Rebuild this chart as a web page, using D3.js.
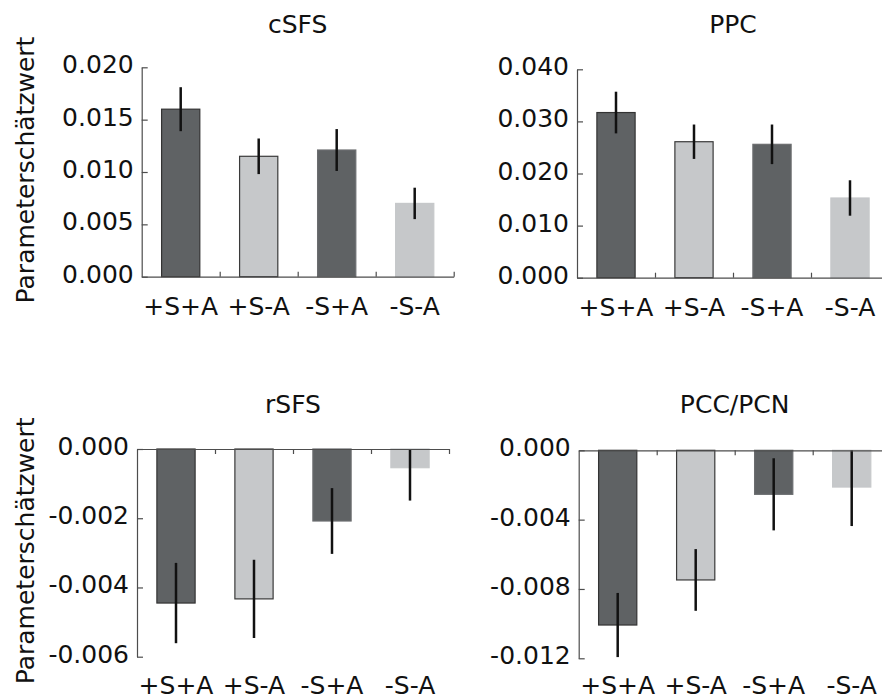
<!DOCTYPE html>
<html>
<head>
<meta charset="utf-8">
<script src="https://cdn.jsdelivr.net/npm/d3@7"></script>
<style>
    body { margin: 0; background: #fff; }
    text { font-family: "DejaVu Sans", sans-serif; fill: #111; }
    .axis path, .axis line { stroke: #4d4d4d; stroke-width: 1.2; }
</style>
</head>
<body>
<div id="chart"></div>
<script>
// conditions on the x axis
const categories = ["+S+A", "+S-A", "-S+A", "-S-A"];

// mean parameter estimates and their errors, per region
const csfsMeans = [0.0160, 0.0115, 0.0121, 0.0070];
const csfsErrors = [0.0021, 0.0017, 0.0020, 0.0015];

const ppcMeans = [0.0317, 0.0261, 0.0256, 0.0153];
const ppcErrors = [0.0040, 0.0033, 0.0038, 0.0034];

const rsfsMeans = [-0.00445, -0.00433, -0.00208, -0.00054];
const rsfsErrors = [0.00116, 0.00113, 0.00095, 0.00095];

const pccMeans = [-0.01008, -0.00748, -0.00254, -0.00212];
const pccErrors = [0.00185, 0.00178, 0.00208, 0.00225];

// y tick values
const csfsTicks = [0, 0.005, 0.010, 0.015, 0.020];
const ppcTicks = [0, 0.010, 0.020, 0.030, 0.040];
const rsfsTicks = [0, -0.002, -0.004, -0.006];
const pccTicks = [0, -0.004, -0.008, -0.012];

const width = 882;
const height = 697;
const fontSize = "25px";
const barFills = ["#5f6264", "#c6c8ca", "#5f6264", "#c6c8ca"];
const barEdges = ["#333333", "#3a3a3a", "#6b6d6f", "#c6c8ca"];

const svg = d3.select("#chart")
    .append("svg")
    .attr("width", width)
    .attr("height", height);

// =============================
// one panel: bars, error bars, axes
// =============================
const drawPanel = (p) => {
    const xScale = d3.scaleBand()
        .domain(categories)
        .range([p.left, p.left + 312])
        .paddingInner(0.51)
        .paddingOuter(0.255);

    const yScale = d3.scaleLinear()
        .domain(p.domain)
        .range([p.bottom, p.top]);

    const g = svg.append("g");
    const rows = categories.map((c, i) => ({ cat: c, mean: p.means[i], err: p.errors[i], i: i }));
    const clamp = v => Math.max(p.domain[0], Math.min(p.domain[1], v));

    // bars
    g.selectAll("rect")
        .data(rows)
        .join("rect")
            .attr("x", d => xScale(d.cat))
            .attr("y", d => yScale(Math.max(0, d.mean)))
            .attr("width", xScale.bandwidth())
            .attr("height", d => Math.abs(yScale(d.mean) - yScale(0)))
            .attr("fill", d => barFills[d.i])
            .attr("stroke", d => barEdges[d.i])
            .attr("stroke-width", 1.2);

    // error bars
    g.selectAll("line.err")
        .data(rows)
        .join("line")
            .attr("class", "err")
            .attr("x1", d => xScale(d.cat) + xScale.bandwidth() / 2)
            .attr("x2", d => xScale(d.cat) + xScale.bandwidth() / 2)
            .attr("y1", d => yScale(clamp(d.mean + d.err)))
            .attr("y2", d => yScale(clamp(d.mean - d.err)))
            .attr("stroke", "#111")
            .attr("stroke-width", 2.5);

    // left axis, ticks pointing inward
    const leftAxis = d3.axisLeft(yScale)
        .tickValues(p.ticks)
        .tickFormat(d => d.toFixed(3))
        .tickSizeInner(-6)
        .tickSizeOuter(0)
        .tickPadding(8);

    const yAxisG = g.append("g")
        .attr("class", "axis")
        .attr("transform", `translate(${p.left},0)`)
        .call(leftAxis);
    yAxisG.selectAll("text")
        .attr("dy", "0.22em")
        .style("font-size", fontSize);

    // zero line with ticks at the category boundaries
    const xEdges = d3.scaleLinear()
        .domain([0, categories.length])
        .range(xScale.range());
    const zeroAxis = (p.domain[1] > 0 ? d3.axisBottom(xEdges) : d3.axisTop(xEdges))
        .tickValues([1, 2, 3, 4])
        .tickFormat("")
        .tickSizeInner(-5)
        .tickSizeOuter(0);

    g.append("g")
        .attr("class", "axis")
        .attr("transform", `translate(0,${yScale(0)})`)
        .call(zeroAxis);

    // category labels under the plot area
    g.selectAll("text.cat")
        .data(categories)
        .join("text")
            .attr("class", "cat")
            .text(d => d)
            .attr("x", d => xScale(d) + xScale.bandwidth() / 2)
            .attr("y", Math.min(p.bottom + 38, height - 3))
            .attr("text-anchor", "middle")
            .style("font-size", fontSize);

    // panel title
    svg.append("text")
        .text(p.title)
        .attr("x", p.left + 156)
        .attr("y", p.titleY)
        .attr("text-anchor", "middle")
        .style("font-size", fontSize);

    if (p.yLabel) {
        svg.append("text")
            .text("Parameterschätzwert")
            .attr("transform", `translate(34,${(p.top + p.bottom) / 2 - 2}) rotate(-90)`)
            .attr("text-anchor", "middle")
            .style("font-size", fontSize);
    }
};

drawPanel({ title: "cSFS", means: csfsMeans, errors: csfsErrors, ticks: csfsTicks,
    domain: [0, 0.020], left: 141.7, top: 67.3, bottom: 276.7, titleY: 33, yLabel: true });
drawPanel({ title: "PPC", means: ppcMeans, errors: ppcErrors, ticks: ppcTicks,
    domain: [0, 0.040], left: 577, top: 69.3, bottom: 277.7, titleY: 33, yLabel: false });
drawPanel({ title: "rSFS", means: rsfsMeans, errors: rsfsErrors, ticks: rsfsTicks,
    domain: [-0.006, 0], left: 137, top: 449, bottom: 656.7, titleY: 413, yLabel: true });
drawPanel({ title: "PCC/PCN", means: pccMeans, errors: pccErrors, ticks: pccTicks,
    domain: [-0.012, 0], left: 578.7, top: 450.3, bottom: 658.3, titleY: 413, yLabel: false });
</script>
</body>
</html>
